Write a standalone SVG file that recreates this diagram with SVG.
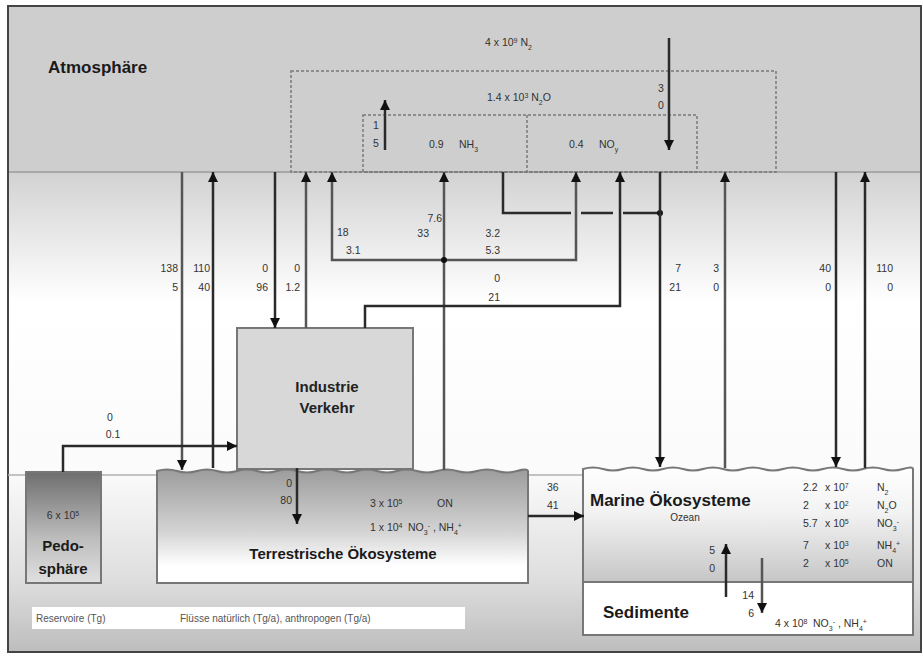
<svg xmlns="http://www.w3.org/2000/svg" width="923" height="656" viewBox="0 0 923 656">
<defs>
<linearGradient id="bg" x1="0" y1="0" x2="0" y2="1">
<stop offset="0" stop-color="#d2d2d2"/>
<stop offset="0.27" stop-color="#ffffff"/>
<stop offset="0.62" stop-color="#fbfbfb"/>
<stop offset="0.85" stop-color="#dedede"/>
<stop offset="1" stop-color="#bdbdbd"/>
</linearGradient>
<linearGradient id="pedo" x1="0" y1="0" x2="0" y2="1">
<stop offset="0" stop-color="#6e6e6e"/>
<stop offset="0.6" stop-color="#bdbdbd"/>
<stop offset="1" stop-color="#e0e0e0"/>
</linearGradient>
<linearGradient id="terr" x1="0" y1="0" x2="0" y2="1">
<stop offset="0" stop-color="#9c9c9c"/>
<stop offset="0.55" stop-color="#d4d4d4"/>
<stop offset="0.85" stop-color="#ffffff"/>
<stop offset="1" stop-color="#ffffff"/>
</linearGradient>
<linearGradient id="ocean" x1="0" y1="0" x2="0" y2="1">
<stop offset="0" stop-color="#ffffff"/>
<stop offset="0.4" stop-color="#f2f2f2"/>
<stop offset="1" stop-color="#c6c6c6"/>
</linearGradient>
<marker id="ah" viewBox="0 0 10 10" refX="10" refY="5" markerWidth="10" markerHeight="10" markerUnits="userSpaceOnUse" orient="auto">
<path d="M0,0 L10,5 L0,10 z" fill="#111"/>
</marker>
</defs>
<style>
.f{stroke:#2a2a2a;stroke-width:2.5;fill:none}
.g{stroke:#555;stroke-width:2.5;fill:none}
.a{marker-end:url(#ah)}
.dash{stroke:#7a7a7a;stroke-width:1.5;fill:none;stroke-dasharray:3 2}
.box{stroke:#777;stroke-width:2}
text{font-family:"Liberation Sans",Arial,sans-serif;fill:#333}
.n{font-size:10.5px}
.r{text-anchor:end}
.c{text-anchor:middle}
.t{font-size:17px;font-weight:bold;fill:#1a1a1a}
.s{font-size:10px}
.sup{font-size:7px}
</style>
<rect x="0" y="0" width="923" height="656" fill="#ffffff"/>
<rect x="8" y="172" width="913" height="480" fill="url(#bg)"/>
<rect x="8" y="6" width="913" height="166" fill="#cecece"/>
<line x1="8" y1="172" x2="921" y2="172" stroke="#a8a8a8" stroke-width="2"/>
<rect x="8" y="6" width="913" height="646" fill="none" stroke="#444" stroke-width="2"/>
<line x1="8" y1="475" x2="590" y2="475" stroke="#b0b0b0" stroke-width="1.5"/>

<g id="atmosphere">
<text x="48" y="73" class="t">Atmosphäre</text>
<rect x="291" y="71" width="485" height="101" class="dash"/>
<rect x="363" y="115" width="334" height="57" class="dash"/>
<line x1="527" y1="115" x2="527" y2="172" class="dash"/>
<text x="485" y="46" class="n">4 x 10<tspan class="sup" baseline-shift="super">9</tspan> N<tspan class="sup" baseline-shift="sub">2</tspan></text>
<text x="487" y="101" class="n">1.4 x 10<tspan class="sup" baseline-shift="super">3</tspan> N<tspan class="sup" baseline-shift="sub">2</tspan>O</text>
<text x="429" y="148" class="n">0.9</text>
<text x="459" y="148" class="n">NH<tspan class="sup" baseline-shift="sub">3</tspan></text>
<text x="569" y="148" class="n">0.4</text>
<text x="599" y="148" class="n">NO<tspan class="sup" baseline-shift="sub">y</tspan></text>
<text x="661" y="92" class="n c">3</text>
<text x="661" y="109" class="n c">0</text>
<text x="376" y="129" class="n c">1</text>
<text x="376" y="147" class="n c">5</text>
</g>

<g id="industrie">
<rect x="237" y="328" width="176" height="141" fill="#d8d8d8" class="box"/>
<text x="327" y="392" class="c" style="font-size:15px;font-weight:bold;fill:#222">Industrie</text>
<text x="327" y="413" class="c" style="font-size:15px;font-weight:bold;fill:#222">Verkehr</text>
</g>

<g id="pedosphaere">
<rect x="26" y="472" width="75" height="111" fill="url(#pedo)" class="box"/>
<text x="63" y="519" class="n c">6 x 10<tspan class="sup" baseline-shift="super">5</tspan></text>
<text x="63" y="551" class="c" style="font-size:15px;font-weight:bold;fill:#1a1a1a">Pedo-</text>
<text x="63" y="574" class="c" style="font-size:15px;font-weight:bold;fill:#1a1a1a">sphäre</text>
</g>

<g id="terrestrisch">
<path d="M157,583 V471 q10,-3 20,0 t20,0 t20,0 t20,0 t20,0 t20,0 t20,0 t20,0 t20,0 t20,0 t20,0 t20,0 t20,0 t20,0 t20,0 t20,0 t20,0 t20,0 t11,0 V583 Z" fill="url(#terr)" class="box"/>
<text x="370" y="507" class="n">3 x 10<tspan class="sup" baseline-shift="super">5</tspan></text>
<text x="437" y="507" class="n">ON</text>
<text x="370" y="531" class="n">1 x 10<tspan class="sup" baseline-shift="super">4</tspan></text>
<text x="408" y="531" class="n">NO<tspan class="sup" baseline-shift="sub">3</tspan><tspan class="sup" baseline-shift="super">-</tspan> , NH<tspan class="sup" baseline-shift="sub">4</tspan><tspan class="sup" baseline-shift="super">+</tspan></text>
<text x="343" y="559" class="c" style="font-size:15px;font-weight:bold;fill:#1a1a1a">Terrestrische Ökosysteme</text>
</g>

<g id="marine">
<path d="M583,582 V469 q10,-3 20,0 t20,0 t20,0 t20,0 t20,0 t20,0 t20,0 t20,0 t20,0 t20,0 t20,0 t20,0 t20,0 t20,0 t20,0 t20,0 t10,0 V582 Z" fill="url(#ocean)" class="box"/>
<text x="590" y="506" class="t">Marine Ökosysteme</text>
<text x="685" y="521" class="s c">Ozean</text>
<text x="803" y="491" class="n">2.2</text>
<text x="825" y="491" class="n">x 10<tspan class="sup" baseline-shift="super">7</tspan></text>
<text x="877" y="491" class="n">N<tspan class="sup" baseline-shift="sub">2</tspan></text>
<text x="803" y="509" class="n">2</text>
<text x="825" y="509" class="n">x 10<tspan class="sup" baseline-shift="super">2</tspan></text>
<text x="877" y="509" class="n">N<tspan class="sup" baseline-shift="sub">2</tspan>O</text>
<text x="803" y="527" class="n">5.7</text>
<text x="825" y="527" class="n">x 10<tspan class="sup" baseline-shift="super">5</tspan></text>
<text x="877" y="527" class="n">NO<tspan class="sup" baseline-shift="sub">3</tspan><tspan class="sup" baseline-shift="super">-</tspan></text>
<text x="803" y="549" class="n">7</text>
<text x="825" y="549" class="n">x 10<tspan class="sup" baseline-shift="super">3</tspan></text>
<text x="877" y="549" class="n">NH<tspan class="sup" baseline-shift="sub">4</tspan><tspan class="sup" baseline-shift="super">+</tspan></text>
<text x="803" y="567" class="n">2</text>
<text x="825" y="567" class="n">x 10<tspan class="sup" baseline-shift="super">5</tspan></text>
<text x="877" y="567" class="n">ON</text>
</g>

<g id="sedimente">
<rect x="583" y="582" width="330" height="53" fill="#ffffff" class="box"/>
<text x="603" y="618" class="t">Sedimente</text>
<text x="775" y="627" class="n">4 x 10<tspan class="sup" baseline-shift="super">8</tspan></text>
<text x="813" y="627" class="n">NO<tspan class="sup" baseline-shift="sub">3</tspan><tspan class="sup" baseline-shift="super">-</tspan> , NH<tspan class="sup" baseline-shift="sub">4</tspan><tspan class="sup" baseline-shift="super">+</tspan></text>
</g>

<g id="legende">
<rect x="32" y="607" width="433" height="22" fill="#ffffff"/>
<text x="36" y="622" class="s" style="fill:#555">Reservoire (Tg)</text>
<text x="180" y="622" class="s" style="fill:#555">Flüsse natürlich (Tg/a), anthropogen (Tg/a)</text>
</g>

<g id="connectors">
<line x1="385" y1="150" x2="385" y2="100" class="f a"/>
<line x1="669" y1="38" x2="669" y2="150" class="f a"/>
<line x1="182" y1="172" x2="182" y2="470" class="g a"/>
<line x1="213" y1="468" x2="213" y2="172" class="f a"/>
<line x1="275" y1="172" x2="275" y2="328" class="f a"/>
<line x1="306" y1="328" x2="306" y2="172" class="g a"/>
<path d="M444,260 H332 V172" class="g a"/>
<path d="M444,260 H576 V172" class="g a"/>
<line x1="444" y1="470" x2="444" y2="172" class="g a"/>
<circle cx="444" cy="260" r="3" fill="#111"/>
<path d="M503,172 V213 H571 M581,213 H613 M623,213 H660" class="f"/>
<circle cx="660" cy="213" r="3" fill="#111"/>
<line x1="660" y1="172" x2="660" y2="467" class="f a"/>
<path d="M365,328 V306 H620 V172" class="f a"/>
<line x1="725" y1="468" x2="725" y2="172" class="g a"/>
<line x1="836" y1="172" x2="836" y2="467" class="f a"/>
<line x1="865" y1="468" x2="865" y2="172" class="f a"/>
<path d="M63,472 V446 H237" class="f a"/>
<line x1="297" y1="468" x2="297" y2="524" class="f a"/>
<line x1="528" y1="516" x2="584" y2="516" class="f a"/>
<line x1="726" y1="597" x2="726" y2="544" class="f a"/>
<line x1="762" y1="558" x2="762" y2="613" class="g a"/>
<text x="178" y="272" class="n r">138</text>
<text x="178" y="291" class="n r">5</text>
<text x="210" y="272" class="n r">110</text>
<text x="210" y="291" class="n r">40</text>
<text x="268" y="272" class="n r">0</text>
<text x="268" y="291" class="n r">96</text>
<text x="300" y="272" class="n r">0</text>
<text x="300" y="291" class="n r">1.2</text>
<text x="337" y="236" class="n">18</text>
<text x="346" y="254" class="n">3.1</text>
<text x="442" y="222" class="n r">7.6</text>
<text x="429" y="237" class="n r">33</text>
<text x="500" y="237" class="n r">3.2</text>
<text x="500" y="254" class="n r">5.3</text>
<text x="500" y="282" class="n r">0</text>
<text x="500" y="301" class="n r">21</text>
<text x="681" y="272" class="n r">7</text>
<text x="681" y="291" class="n r">21</text>
<text x="719" y="272" class="n r">3</text>
<text x="719" y="291" class="n r">0</text>
<text x="831" y="272" class="n r">40</text>
<text x="831" y="291" class="n r">0</text>
<text x="893" y="272" class="n r">110</text>
<text x="893" y="291" class="n r">0</text>
<text x="110" y="421" class="n c">0</text>
<text x="113" y="438" class="n c">0.1</text>
<text x="292" y="487" class="n r">0</text>
<text x="292" y="504" class="n r">80</text>
<text x="547" y="491" class="n">36</text>
<text x="547" y="509" class="n">41</text>
<text x="715" y="554" class="n r">5</text>
<text x="715" y="572" class="n r">0</text>
<text x="754" y="599" class="n r">14</text>
<text x="754" y="617" class="n r">6</text>
</g>
</svg>
